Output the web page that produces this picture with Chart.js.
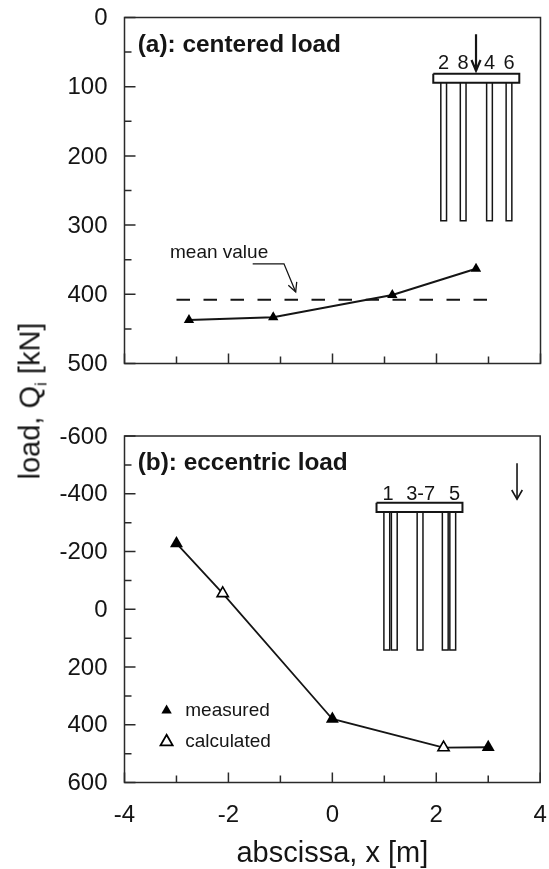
<!DOCTYPE html>
<html lang="en">
<head>
    <meta charset="UTF-8">
    <title>Pile load distribution</title>
    <script src="https://cdn.jsdelivr.net/npm/chart.js@4.4.0/dist/chart.umd.min.js"></script>
    <style>
        html, body { margin: 0; padding: 0; background: #fff; }
        body { width: 549px; height: 869px; position: relative; overflow: hidden; }
        canvas { position: absolute; left: 0; }
        #chartA { top: 0; }
        #chartB { top: 400px; }
        #yTitle {
            position: absolute;
            left: 30px;
            top: 401px;
            transform: translate(-50%, -50%) rotate(-90deg);
            font: 29px "Liberation Sans", Arial, sans-serif;
            color: #151515;
            white-space: nowrap;
        }
        #yTitle sub { font-size: 17px; line-height: 0; }
    </style>
</head>
<body>
    <canvas id="chartA" width="549" height="400"></canvas>
    <canvas id="chartB" width="549" height="469"></canvas>
    <div id="yTitle">load, Q<sub>i</sub> [kN]</div>
    <script>
        // values
        const xTickLabels = [-4, -2, 0, 2, 4];
        const loadTicksA = [0, 100, 200, 300, 400, 500];
        const loadTicksB = [-600, -400, -200, 0, 200, 400, 600];

        const abscissaA = [-2.76, -1.14, 1.15, 2.76];
        const loadA = [437, 433, 401, 363];
        const meanX = [-3, 3];
        const meanLoad = [408, 408];

        const abscissaB = [-3, -2.11, 0, 2.14, 3];
        const loadB = [-228, -55, 380, 479, 478];
        const kindB = ['measured', 'calculated', 'measured', 'calculated', 'measured'];

        // pile group sketches, in axis units
        const pilesA = [2.138, 2.513, 3.019, 3.394];
        const pileNamesA = ['2', '8', '4', '6'];
        const pilesB = [1.048, 1.192, 1.688, 2.173, 2.317];
        const pileNamesB = ['1', '3-7', '5'];
        const pileNameXB = [1.07, 1.7, 2.35];

        const FONT = '"Liberation Sans", Arial, sans-serif';
        const INK = '#151515';

        function pts(xs, ys) {
            return xs.map((x, i) => ({ x: x, y: ys[i] }));
        }

        function sketch(xs, ys, width) {
            return {
                data: pts(xs, ys), showLine: true, pointRadius: 0,
                borderColor: INK, borderWidth: width || 1.5, tension: 0
            };
        }

        // cap and piles of a foundation sketch
        function pileGroup(piles, halfWidth, capLeft, capRight, capTop, capBottom, tip) {
            const out = [sketch([capLeft, capRight, capRight, capLeft, capLeft],
                [capTop, capTop, capBottom, capBottom, capTop], 2)];
            piles.forEach(p => {
                out.push(sketch([p - halfWidth, p - halfWidth, p + halfWidth, p + halfWidth],
                    [capBottom, tip, tip, capBottom]));
            });
            return out;
        }

        function arrow(x, top, tip, dx, back, width) {
            return [
                sketch([x, x], [top, tip], width),
                sketch([x - dx, x, x + dx], [back, tip, back], width)
            ];
        }

        // frame and inward ticks, notes in axis units
        const panelPlugin = {
            id: 'panel',
            afterDatasetsDraw(chart, args, opts) {
                const c = chart.ctx, a = chart.chartArea;
                const sx = chart.scales.x, sy = chart.scales.y;
                c.save();
                c.strokeStyle = '#2a2a2a';
                c.lineWidth = 1.5;
                c.strokeRect(a.left, a.top, a.right - a.left, a.bottom - a.top);
                c.beginPath();
                sx.ticks.forEach(t => {
                    const px = sx.getPixelForValue(t.value);
                    c.moveTo(px, a.bottom);
                    c.lineTo(px, a.bottom - (xTickLabels.includes(t.value) ? 10 : 7));
                });
                sy.ticks.forEach(t => {
                    const py = sy.getPixelForValue(t.value);
                    c.moveTo(a.left, py);
                    c.lineTo(a.left + (opts.loadTicks.includes(t.value) ? 11 : 7), py);
                });
                c.stroke();
                c.fillStyle = INK;
                opts.notes.forEach(n => {
                    c.font = n.font + ' ' + FONT;
                    c.textAlign = n.align || 'left';
                    c.textBaseline = 'alphabetic';
                    c.fillText(n.text, sx.getPixelForValue(n.x), sy.getPixelForValue(n.y));
                });
                c.restore();
            }
        };

        function options(minY, maxY, stepY, loadTicks, showX, pad, xHeight, notes) {
            return {
                responsive: false,
                animation: false,
                layout: { padding: pad },
                plugins: {
                    legend: { display: false },
                    tooltip: { enabled: false },
                    panel: { loadTicks: loadTicks, notes: notes }
                },
                scales: {
                    x: {
                        type: 'linear', min: -4, max: 4,
                        grid: { display: false, drawTicks: false },
                        border: { display: false },
                        afterFit: s => { s.height = xHeight; s.paddingLeft = 0; s.paddingRight = 0; },
                        ticks: {
                            display: showX, stepSize: 1, autoSkip: false, maxRotation: 0,
                            padding: 18, color: INK,
                            font: { family: FONT, size: 24 },
                            callback: v => xTickLabels.includes(v) ? String(v) : ''
                        },
                        title: {
                            display: showX, text: 'abscissa, x [m]', color: INK,
                            padding: { top: 8, bottom: 0 },
                            font: { family: FONT, size: 29, lineHeight: 1.06 }
                        }
                    },
                    y: {
                        reverse: true, min: minY, max: maxY,
                        grid: { display: false, drawTicks: false },
                        border: { display: false },
                        afterFit: s => { s.width = 124.5; s.paddingTop = 0; s.paddingBottom = 0; },
                        ticks: {
                            stepSize: stepY, autoSkip: false, padding: 17, color: INK,
                            labelOffset: 1,
                            font: { family: FONT, size: 24 },
                            callback: v => loadTicks.includes(v) ? String(v) : ''
                        }
                    }
                }
            };
        }

        new Chart(document.getElementById('chartA'), {
            type: 'scatter',
            data: {
                datasets: [
                    {
                        data: pts(abscissaA, loadA), showLine: true, tension: 0,
                        borderColor: INK, borderWidth: 2,
                        pointStyle: 'triangle', pointRadius: 6,
                        pointBackgroundColor: '#000', pointBorderColor: '#000', pointBorderWidth: 0
                    },
                    Object.assign(sketch(meanX, meanLoad, 2), { borderDash: [13.5, 13.5] }),
                    sketch([-1.535, -0.933, -0.708], [356, 356, 396.7], 1.3),
                    sketch([-0.85, -0.708, -0.688], [387, 396.7, 382], 1.3),
                    ...pileGroup(pilesA, 0.055, 1.938, 3.592, 81.2, 94.2, 293.6),
                    ...arrow(2.76, 24.3, 76.9, 0.087, 61.4, 2.2)
                ]
            },
            options: options(0, 500, 50, loadTicksA, false,
                { top: 17.5, right: 8.5, bottom: 36.5, left: 0 }, 0, [
                    { text: '(a): centered load', x: -3.746, y: 50, font: 'bold 24.4px' },
                    { text: 'mean value', x: -3.125, y: 348, font: '19px' },
                    ...pileNamesA.map((n, i) => ({ text: n, x: pilesA[i], y: 74, font: '20px', align: 'center' }))
                ]),
            plugins: [panelPlugin]
        });

        new Chart(document.getElementById('chartB'), {
            type: 'scatter',
            data: {
                datasets: [
                    {
                        data: pts(abscissaB, loadB), showLine: true, tension: 0,
                        borderColor: INK, borderWidth: 1.8,
                        pointStyle: 'triangle',
                        pointRadius: c => kindB[c.dataIndex] === 'measured' ? 7.5 : 6.5,
                        pointBackgroundColor: c => kindB[c.dataIndex] === 'measured' ? '#000' : '#fff',
                        pointBorderColor: '#000',
                        pointBorderWidth: c => kindB[c.dataIndex] === 'measured' ? 0 : 1.6
                    },
                    {
                        data: pts([-3.19], [351]), pointStyle: 'triangle', pointRadius: 6,
                        pointBackgroundColor: '#000', pointBorderWidth: 0
                    },
                    {
                        data: pts([-3.19], [459]), pointStyle: 'triangle', pointRadius: 7,
                        pointBackgroundColor: '#fff', pointBorderColor: '#000', pointBorderWidth: 1.8
                    },
                    ...pileGroup(pilesB, 0.056, 0.85, 2.504, -369, -337, 141),
                    ...arrow(3.554, -505.5, -381, 0.102, -413, 1.6)
                ]
            },
            options: options(-600, 600, 100, loadTicksB, true,
                { top: 36, right: 8.5, bottom: 0, left: 0 }, 86.5, [
                    { text: '(b): eccentric load', x: -3.746, y: -482, font: 'bold 24.4px' },
                    { text: 'measured', x: -2.83, y: 370, font: '19px' },
                    { text: 'calculated', x: -2.83, y: 477, font: '19px' },
                    ...pileNamesB.map((n, i) => ({ text: n, x: pileNameXB[i], y: -380, font: '20px', align: 'center' }))
                ]),
            plugins: [panelPlugin]
        });
    </script>
</body>
</html>
